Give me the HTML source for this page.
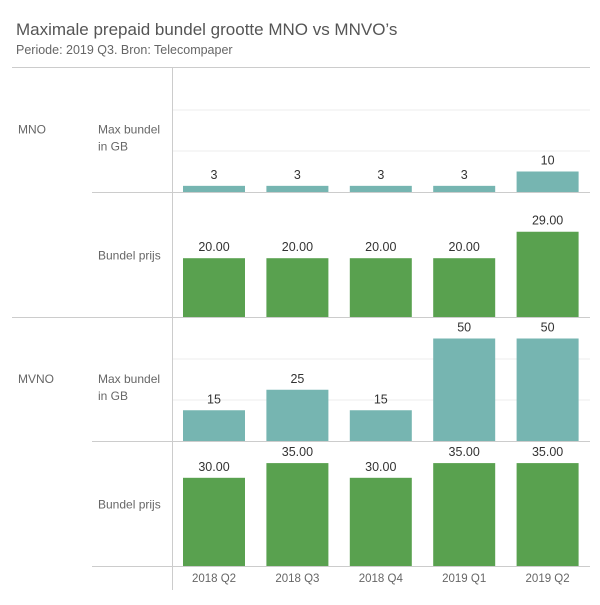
<!DOCTYPE html>
<html><head><meta charset="utf-8"><style>
body{margin:0;background:#fff;font-family:"Liberation Sans","DejaVu Sans",sans-serif}
</style></head><body>
<svg id="chart" width="600" height="600" xmlns="http://www.w3.org/2000/svg">
<text x="16" y="35" font-size="17" fill="#555">Maximale prepaid bundel grootte MNO vs MNVO’s</text>
<text x="16" y="54" font-size="12.5" fill="#666">Periode: 2019 Q3. Bron: Telecompaper</text>
<g id="g"></g>
</svg>
<script>
const categories=["2018 Q2","2018 Q3","2018 Q4","2019 Q1","2019 Q2"];
const mnoGB=[3,3,3,3,10];
const mnoPrice=[20,20,20,20,29];
const mvnoGB=[15,25,15,50,50];
const mvnoPrice=[30,35,30,35,35];
const gbTicks=[20,40];
const NS="http://www.w3.org/2000/svg";
const g=document.getElementById('g');
function el(t,a,p){const e=document.createElementNS(NS,t);for(const k in a)e.setAttribute(k,a[k]);(p||g).appendChild(e);return e;}
const x0=172,pitch=83.4,bw=62;
function xPos(i){return x0+11+i*pitch;}
const gbScale=v=>v*2.05, priceScale=v=>v*2.94;
const rows=[
 {top:67,base:192,data:mnoGB,sc:gbScale,col:"#76b5b1",fmt:v=>String(v),lab:"Max bundel|in GB",grp:"MNO",name:"mno-gb"},
 {top:192,base:317,data:mnoPrice,sc:priceScale,col:"#59a14f",fmt:v=>v.toFixed(2),lab:"Bundel prijs",name:"mno-price"},
 {top:317,base:441,data:mvnoGB,sc:gbScale,col:"#76b5b1",fmt:v=>String(v),lab:"Max bundel|in GB",grp:"MVNO",name:"mvno-gb"},
 {top:441,base:566,data:mvnoPrice,sc:priceScale,col:"#59a14f",fmt:v=>v.toFixed(2),lab:"Bundel prijs",name:"mvno-price"}];
rows.forEach((r,ri)=>{
 if(r.sc===gbScale){gbTicks.forEach(t=>{const l=el('line',{x1:x0,x2:590,y1:r.base-r.sc(t),y2:r.base-r.sc(t),stroke:"#ededed"});
 
 });}
 const sep=el('line',{x1:(ri%2==0)?12:92,x2:590,y1:r.top+0.5,y2:r.top+0.5,stroke:"#ccc"});
 
 
 const parts=r.lab.split('|');
 const ty=r.top+(r.base-r.top)/2+(parts.length>1?4:5);
 parts.forEach((p,k)=>{const t=el('text',{x:98,y:ty+k*17,'font-size':12,fill:"#666"});t.textContent=p;
 
 });
 if(r.grp){const t=el('text',{x:18,y:ty,'font-size':12,fill:"#666"});t.textContent=r.grp;
 
 }
 r.data.forEach((v,i)=>{const h=r.sc(v);
  const b=el('rect',{x:xPos(i),y:r.base-h,width:bw,height:h,fill:r.col});
  
  
  const t=el('text',{x:xPos(i)+bw/2,y:r.base-h-7,'font-size':12.5,fill:"#333",'text-anchor':'middle'});t.textContent=r.fmt(v);
  
  
 });
});
const bl=el('line',{x1:92,x2:590,y1:566.5,y2:566.5,stroke:"#ccc"});


const vl=el('line',{x1:172.5,x2:172.5,y1:67,y2:590,stroke:"#ccc"});


categories.forEach((c,i)=>{const t=el('text',{x:xPos(i)+bw/2,y:582,'font-size':11.5,fill:"#666",'text-anchor':'middle'});t.textContent=c;
 
 });
</script>
</body></html>
